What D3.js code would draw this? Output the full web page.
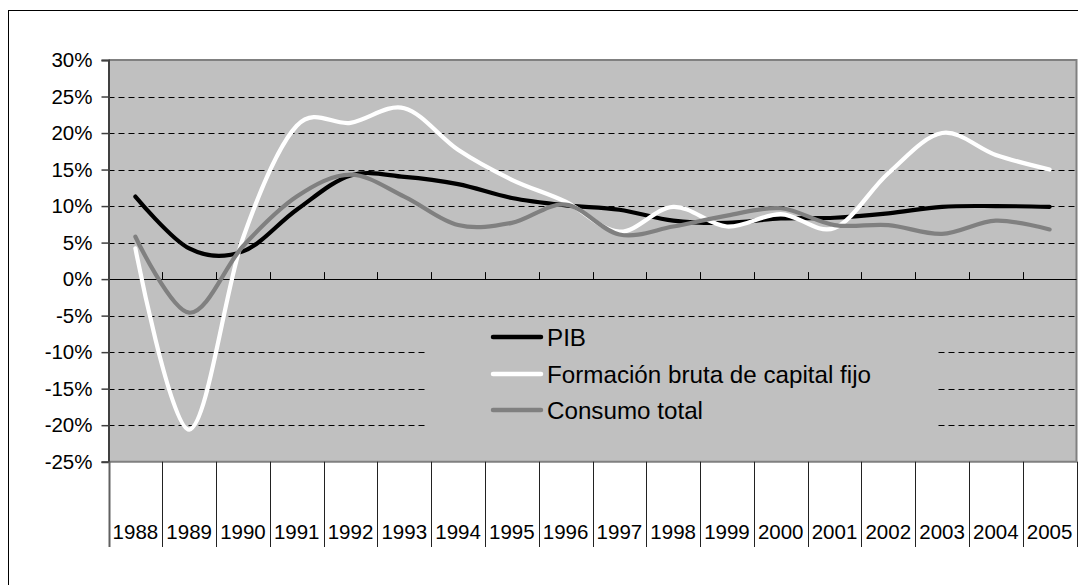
<!DOCTYPE html>
<html><head><meta charset="utf-8">
<script src="https://cdn.jsdelivr.net/npm/d3@7"></script>
<style>body{margin:0;background:#fff}svg{display:block;font-family:Arial,"Liberation Sans",sans-serif}</style>
</head><body>
<svg id="c" width="1078" height="585"></svg>
<script>
const years = ["1988","1989","1990","1991","1992","1993","1994","1995","1996","1997","1998","1999","2000","2001","2002","2003","2004","2005"];
const pib = [11.3,4.2,3.8,9.5,14.2,14.0,13.0,11.1,10.1,9.5,8.0,7.7,8.3,8.4,9.0,9.9,10.0,9.9];
const fbcf = [4.2,-20.6,5.6,21.0,21.4,23.4,17.7,13.6,10.6,6.5,9.9,7.2,8.9,7.0,14.5,20.0,17.0,15.0];
const consumo = [5.8,-4.6,4.5,11.3,14.3,11.3,7.4,7.7,10.2,6.1,7.2,8.7,9.7,7.4,7.4,6.2,8.0,6.8];
const yTicks = [-25,-20,-15,-10,-5,0,5,10,15,20,25,30];
const seriesNames = ["PIB","Formación bruta de capital fijo","Consumo total"];
const seriesColors = ["#000000","#ffffff","#808080"];

const svg = d3.select("#c");
const L = 108.5, R = 1076.5, T = 60, B = 461.7;
const x = d3.scaleBand().domain(years).range([L, R]).padding(0);
const y = d3.scaleLinear().domain([-25, 30]).range([B, T]);

// outer frame
svg.append("rect").attr("x", 8.5).attr("y", 10.5).attr("width", 1080).attr("height", 600)
  .attr("fill", "none").attr("stroke", "#000").attr("stroke-width", 1);

// plot area
svg.append("rect").attr("x", L).attr("y", T).attr("width", R - L).attr("height", B - T).attr("fill", "#c0c0c0");

// gridlines
const gridVals = yTicks.filter(v => v !== 30 && v !== -25 && v !== 0);
svg.append("g").selectAll("line").data(gridVals).join("line")
  .attr("x1", L).attr("x2", R).attr("y1", d => Math.round(y(d)) + 0.5).attr("y2", d => Math.round(y(d)) + 0.5)
  .attr("stroke", "#000").attr("stroke-width", 1).attr("stroke-dasharray", "6,4");

// legend box (covers gridlines)
const lg = svg.append("g");
lg.append("rect").attr("x", 425).attr("y", 320).attr("width", 512).attr("height", 132).attr("fill", "#c0c0c0");

// plot border top/right/bottom
svg.append("path").attr("d", `M${L},${T}H${R}V${B}H${L}`).attr("fill", "none").attr("stroke", "#808080").attr("stroke-width", 2);

// zero axis
svg.append("line").attr("x1", L).attr("x2", R).attr("y1", Math.round(y(0)) + 0.5).attr("y2", Math.round(y(0)) + 0.5)
  .attr("stroke", "#000").attr("stroke-width", 1);
// category ticks on zero line
const bounds = years.map(d => x(d)).concat([R]);
svg.append("g").selectAll("line").data(bounds.slice(1, -1)).join("line")
  .attr("x1", d => Math.round(d) + 0.5).attr("x2", d => Math.round(d) + 0.5)
  .attr("y1", y(0) - 7).attr("y2", y(0)).attr("stroke", "#000").attr("stroke-width", 1);

// y axis
const yAxis = d3.axisLeft(y).tickValues(yTicks).tickSize(7).tickPadding(9).tickFormat(d => d + "%");
const ga = svg.append("g").attr("transform", `translate(${L},0)`).call(yAxis);
ga.select(".domain").attr("stroke", "#404040").attr("stroke-width", 2);
ga.selectAll(".tick line").attr("stroke", "#404040").attr("stroke-width", 1.5);
ga.selectAll(".tick text").attr("font-size", "20.5px").attr("fill", "#000").attr("font-family", "Arial, 'Liberation Sans', sans-serif");

// below-plot category separators and labels
svg.append("g").selectAll("line").data(bounds).join("line")
  .attr("x1", d => Math.round(d) + 0.5).attr("x2", d => Math.round(d) + 0.5)
  .attr("y1", B).attr("y2", 547).attr("stroke", (d, i) => (i === 0 ? "#606060" : "#222")).attr("stroke-width", (d, i) => (i === 0 ? 2 : 1));
svg.append("g").selectAll("text").data(years).join("text")
  .attr("x", d => x(d) + x.bandwidth() / 2).attr("y", 539)
  .attr("text-anchor", "middle").attr("font-size", "20.5px").attr("fill", "#000").text(d => d);

// series
const line = d3.line().x((d, i) => x(years[i]) + x.bandwidth() / 2).y(d => y(d)).curve(d3.curveCatmullRom.alpha(0));
const data = [pib, fbcf, consumo];
svg.append("g").selectAll("path").data(data).join("path")
  .attr("d", d => line(d)).attr("fill", "none")
  .attr("stroke", (d, i) => seriesColors[i]).attr("stroke-width", 4.2)
  .attr("stroke-linecap", "round").attr("stroke-linejoin", "round");

// legend items
const rowsY = [337, 374, 410];
seriesNames.forEach((n, i) => {
  lg.append("line").attr("x1", 493).attr("x2", 541).attr("y1", rowsY[i]).attr("y2", rowsY[i])
    .attr("stroke", seriesColors[i]).attr("stroke-width", 4.5).attr("stroke-linecap", "round");
  lg.append("text").attr("x", 547).attr("y", rowsY[i]).attr("dy", "0.36em")
    .attr("font-size", "24.2px").attr("fill", "#000").text(n);
});
</script>
</body></html>
